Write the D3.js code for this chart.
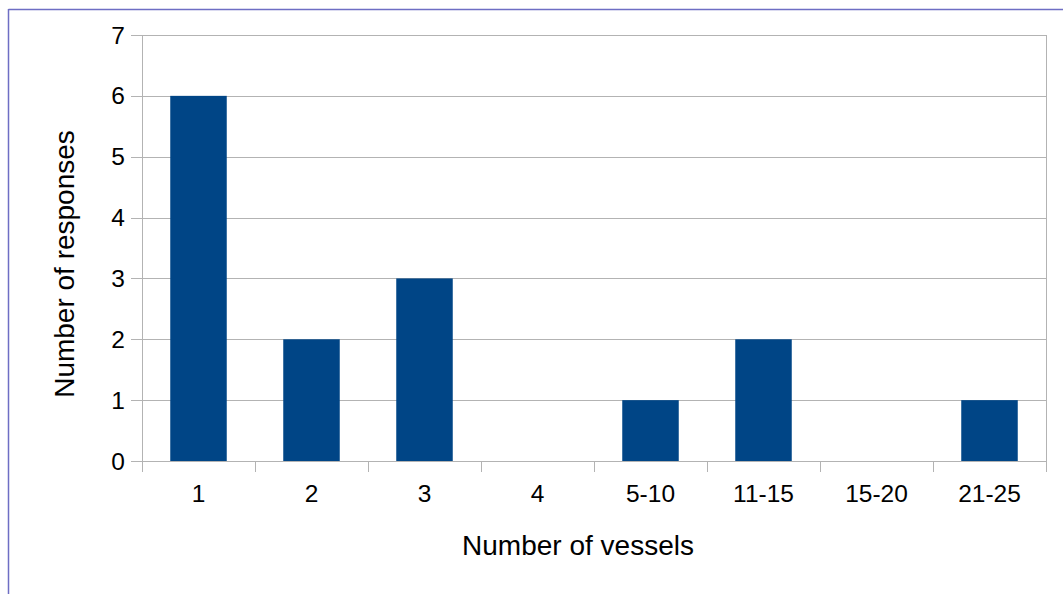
<!DOCTYPE html>
<html>
<head>
<meta charset="utf-8">
<script src="https://cdn.jsdelivr.net/npm/d3@7"></script>
<style>
  html, body { margin: 0; padding: 0; background: #fff; }
  svg { display: block; font-family: "Liberation Sans", Arial, sans-serif; }
</style>
</head>
<body>
<svg id="chart" width="1063" height="594"></svg>
<script>
// Survey results: how many vessels each respondent operates
const categories = ["1", "2", "3", "4", "5-10", "11-15", "15-20", "21-25"];
const responses = [6, 2, 3, 0, 1, 2, 0, 1];
const yTicks = [0, 1, 2, 3, 4, 5, 6, 7];
const xTitle = "Number of vessels";
const yTitle = "Number of responses";

const svg = d3.select("#chart");
const plot = { left: 142, top: 35, right: 1046, bottom: 461 };

// frame lines along the top and left of the drawing
svg.append("line").attr("x1", 8.5).attr("x2", 1063).attr("y1", 9.5).attr("y2", 9.5)
  .attr("stroke", "#6e6ec4").attr("stroke-width", 1.5);
svg.append("line").attr("x1", 8.5).attr("x2", 8.5).attr("y1", 9).attr("y2", 594)
  .attr("stroke", "#6e6ec4").attr("stroke-width", 1.5);

const x = d3.scaleBand().domain(categories)
  .range([plot.left, plot.right]).paddingInner(0.5).paddingOuter(0.25);
const xEdges = d3.scaleLinear().domain([0, categories.length]).range([plot.left, plot.right]);
const y = d3.scaleLinear().domain([0, 7]).range([plot.bottom, plot.top]);

const grid = "#b3b3b3";

// horizontal grid lines with tick marks extending left
svg.append("g").selectAll("line").data(yTicks).join("line")
  .attr("x1", plot.left - 11).attr("x2", plot.right)
  .attr("y1", d => Math.round(y(d)) + 0.5).attr("y2", d => Math.round(y(d)) + 0.5)
  .attr("stroke", grid).attr("stroke-width", 1);

// vertical axis line and right border
svg.append("line").attr("x1", plot.left + 0.5).attr("x2", plot.left + 0.5)
  .attr("y1", plot.top).attr("y2", plot.bottom + 11).attr("stroke", grid);
svg.append("line").attr("x1", plot.right + 0.5).attr("x2", plot.right + 0.5)
  .attr("y1", plot.top).attr("y2", plot.bottom + 11).attr("stroke", grid);

// category separator ticks below the axis
svg.append("g").selectAll("line").data(d3.range(1, categories.length)).join("line")
  .attr("x1", d => Math.round(xEdges(d)) + 0.5).attr("x2", d => Math.round(xEdges(d)) + 0.5)
  .attr("y1", plot.bottom).attr("y2", plot.bottom + 11)
  .attr("stroke", grid);

// bars
svg.append("g").selectAll("rect").data(categories.map((c, i) => ({ c, v: responses[i] })))
  .join("rect")
  .attr("x", d => x(d.c))
  .attr("width", x.bandwidth())
  .attr("y", d => y(d.v))
  .attr("height", d => y(0) - y(d.v))
  .attr("fill", "#004586");

// y tick labels
svg.append("g").selectAll("text").data(yTicks).join("text")
  .attr("x", 125).attr("y", d => y(d))
  .attr("dy", "0.35em")
  .attr("text-anchor", "end")
  .attr("font-size", 24.5)
  .text(d => d);

// x tick labels
svg.append("g").selectAll("text").data(categories).join("text")
  .attr("x", d => x(d) + x.bandwidth() / 2).attr("y", 502)
  .attr("text-anchor", "middle")
  .attr("font-size", 24.5)
  .text(d => d);

// axis titles
svg.append("text").attr("x", 578).attr("y", 555)
  .attr("text-anchor", "middle").attr("font-size", 28).text(xTitle);
svg.append("text")
  .attr("transform", "translate(74,264) rotate(-90)")
  .attr("text-anchor", "middle").attr("font-size", 28).text(yTitle);
</script>
</body>
</html>
